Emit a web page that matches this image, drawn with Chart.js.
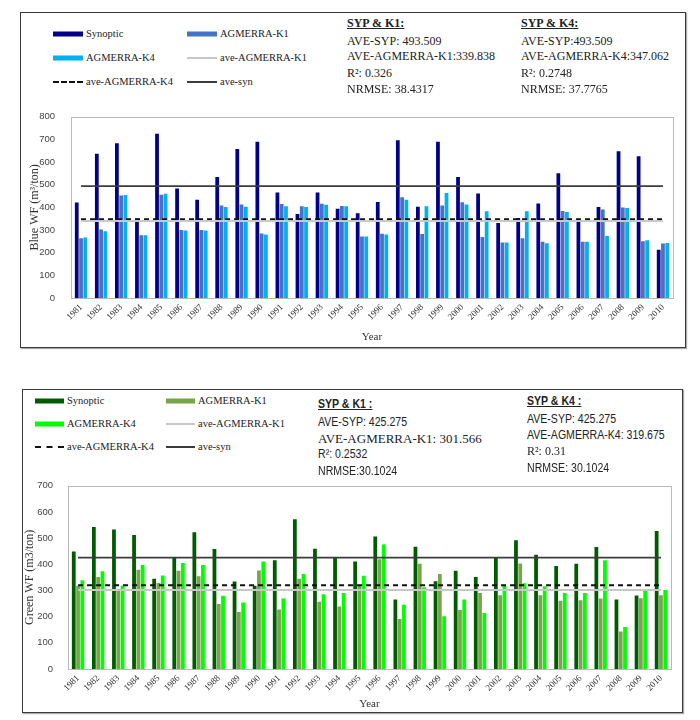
<!DOCTYPE html>
<html><head><meta charset="utf-8">
<script src="https://cdn.jsdelivr.net/npm/chart.js@4.4.0/dist/chart.umd.min.js"></script>
<style>
body{margin:0;background:#fff;width:700px;height:720px;position:relative;overflow:hidden;}
.box{position:absolute;border:1.5px solid #3a3a3a;box-sizing:border-box;box-shadow:1px 1px 1px #aaa;}
canvas{position:absolute;}
.t{position:absolute;white-space:nowrap;line-height:1;transform:translateY(-50%);transform-origin:0 50%;color:#222;}
.serif{font-family:"Liberation Serif","DejaVu Serif",serif;}
.sans{font-family:"Liberation Sans Narrow","Liberation Sans",sans-serif;transform:translateY(-50%) scaleX(0.88);}
.hd{font-weight:bold;text-decoration:underline;}
.sw{position:absolute;transform:translateY(-50%);}
</style></head><body>
<div class="box" style="left:20px;top:12px;width:666px;height:336px;"></div>
<div class="box" style="left:22px;top:389px;width:661px;height:324px;"></div>
<canvas id="c1" width="666" height="252" style="left:20px;top:95px;width:666px;height:252px;"></canvas>
<canvas id="c2" width="661" height="247" style="left:22px;top:465px;width:661px;height:247px;"></canvas>
<div id="ov"></div>
<script>
// ---- data ----
const years = ['1981','1982','1983','1984','1985','1986','1987','1988','1989','1990',
  '1991','1992','1993','1994','1995','1996','1997','1998','1999','2000',
  '2001','2002','2003','2004','2005','2006','2007','2008','2009','2010'];

const blueSyn = [421,637,683,351,725,483,433,534,658,689,466,371,466,394,374,424,696,403,689,534,461,331,353,417,551,341,401,647,625,213];
const blueK1  = [264,302,452,277,456,300,300,408,413,285,415,405,416,406,271,284,445,282,408,422,269,245,264,248,384,248,390,399,250,241];
const blueK4  = [267,294,455,277,460,298,298,401,403,280,405,402,412,405,271,280,433,405,463,413,383,245,383,242,380,248,274,397,255,243];

const greenSyn = [449,542,533,512,345,424,522,458,334,318,415,572,459,424,411,506,265,467,335,375,351,424,492,436,393,402,466,265,281,527];
const greenK1  = [318,351,300,379,328,375,354,248,218,376,227,345,257,239,318,419,191,402,363,225,290,282,403,282,261,263,269,143,270,282];
const greenK4  = [339,373,318,397,357,405,397,280,254,411,269,363,285,290,356,475,245,312,201,265,214,318,327,316,290,290,415,160,305,302];

const blueAvgSyn = 493.509, blueAvgK1 = 339.838, blueAvgK4 = 347.062;
const greenAvgSyn = 425.275, greenAvgK1 = 301.566, greenAvgK4 = 319.675;

const blueStats1 = ['AVE-SYP: 493.509','AVE-AGMERRA-K1:339.838','R²:  0.326','NRMSE: 38.4317'];
const blueStats2 = ['AVE-SYP:493.509','AVE-AGMERRA-K4:347.062','R²:  0.2748','NRMSE:  37.7765'];
const greenStats1 = ['AVE-SYP:  425.275','AVE-AGMERRA-K1:  301.566','R²: 0.2532','NRMSE:30.1024'];
const greenStats2 = ['AVE-SYP: 425.275','AVE-AGMERRA-K4: 319.675','R²: 0.31','NRMSE: 30.1024'];

// ---- styles ----
const SERIF = '"Liberation Serif","DejaVu Serif",serif';
const SANS = '"Liberation Sans Narrow","Liberation Sans",sans-serif';
const COL = {
  blueSyn:'#00008b', blueK1:'#4472c4', blueK4:'#00b0f0',
  greenSyn:'#005a00', greenK1:'#77a64a', greenK4:'#00ff00',
  aveK1:'#c8c8c8', aveK4:'#111111', aveSyn:'#3c3c3c'
};

const frame = {
  id:'frame',
  beforeDatasetsDraw(c){
    const a=c.chartArea, ctx=c.ctx;
    ctx.save(); ctx.strokeStyle='#b9b9b9'; ctx.lineWidth=1;
    ctx.strokeRect(Math.round(a.left)+0.5, Math.round(a.top)+0.5, Math.round(a.right-a.left), Math.round(a.bottom-a.top));
    ctx.restore();
  }
};

function makeChart(id, g){
  const bar = (label,data,color)=>({type:'bar',label,data,backgroundColor:color,borderWidth:0,
    barPercentage:0.88,categoryPercentage:0.64,order:2});
  const line = (label,val,color,w,dash)=>({type:'line',label,data:years.map(()=>val),borderColor:color,
    borderWidth:w,borderDash:dash||[],pointRadius:0,fill:false,order:1});
  return new Chart(document.getElementById(id),{
    data:{labels:years,datasets:[
      bar('Synoptic',g.syn,g.cSyn),
      bar('AGMERRA-K1',g.k1,g.cK1),
      bar('AGMERRA-K4',g.k4,g.cK4),
      line('ave-AGMERRA-K1',g.aK1,COL.aveK1,2),
      line('ave-AGMERRA-K4',g.aK4,COL.aveK4,2,[5,4]),
      line('ave-syn',g.aSyn,COL.aveSyn,1.6)
    ]},
    options:{
      responsive:false, animation:false, devicePixelRatio:1,
      layout:{padding:{top:g.padTop,right:g.padRight,left:0,bottom:0}},
      plugins:{legend:{display:false},tooltip:{enabled:false}},
      scales:{
        x:{offset:true,grid:{display:false,drawTicks:false},border:{display:false},
          ticks:{autoSkip:false,maxRotation:45,minRotation:45,font:{family:SERIF,size:9},color:'#333',padding:4},
          title:{display:true,text:'Year',font:{family:SERIF,size:11},color:'#333',padding:{top:0,bottom:g.yearPad}},
          afterFit(s){ s.height = g.xH; }},
        y:{min:0,max:g.max,grid:{display:false,drawTicks:false},border:{display:false},
          ticks:{stepSize:100,font:{family:SANS,size:9.5},color:'#444',padding:g.tickPad},
          title:{display:true,text:g.yTitle,font:{family:SERIF,size:12},color:'#333',padding:{top:g.titlePad,bottom:0}},
          afterFit(s){ s.width = g.yW; }}
      }
    },
    plugins:[frame]
  });
}

makeChart('c1',{syn:blueSyn,k1:blueK1,k4:blueK4,cSyn:COL.blueSyn,cK1:COL.blueK1,cK4:COL.blueK4,
  aK1:blueAvgK1,aK4:blueAvgK4,aSyn:blueAvgSyn,max:800,yTitle:'Blue WF (m³/ton)',
  padTop:11,padRight:13,xH:49,yW:51,yearPad:3,titlePad:8,tickPad:16});
makeChart('c2',{syn:greenSyn,k1:greenK1,k4:greenK4,cSyn:COL.greenSyn,cK1:COL.greenK1,cK4:COL.greenK4,
  aK1:greenAvgK1,aK4:greenAvgK4,aSyn:greenAvgSyn,max:700,yTitle:'Green WF (m3/ton)',
  padTop:12,padRight:12,xH:43,yW:46,yearPad:1,titlePad:1,tickPad:15});

// ---- legends & stats (HTML text) ----
const ov = document.getElementById('ov');
function txt(s,x,y,cls,size){
  const d=document.createElement('div'); d.className='t '+cls; d.textContent=s;
  d.style.left=x+'px'; d.style.top=y+'px'; d.style.fontSize=size+'px'; ov.appendChild(d); return d;
}
function swatch(kind,color,x,y,w){
  const d=document.createElement('div'); d.className='sw';
  d.style.left=x+'px'; d.style.top=y+'px'; d.style.width=w+'px';
  if(kind==='bar'){ d.style.height='5px'; d.style.background=color; }
  else if(kind==='dash'){ d.style.height='0'; d.style.borderTop='2px dashed '+color; }
  else { d.style.height='0'; d.style.borderTop='2px solid '+color; }
  ov.appendChild(d);
}
function legend(items,cols,rows,w,size){
  items.forEach((it,i)=>{
    const x=cols[i%2], y=rows[Math.floor(i/2)];
    swatch(it[1],it[2],x,y,w);
    txt(it[0],x+w+3,y,'serif',size);
  });
}
legend([['Synoptic','bar',COL.blueSyn],['AGMERRA-K1','bar',COL.blueK1],
        ['AGMERRA-K4','bar',COL.blueK4],['ave-AGMERRA-K1','line',COL.aveK1],
        ['ave-AGMERRA-K4','dash',COL.aveK4],['ave-syn','line',COL.aveSyn]],
       [53,187],[34,58,82],30,10.5);
legend([['Synoptic','bar',COL.greenSyn],['AGMERRA-K1','bar',COL.greenK1],
        ['AGMERRA-K4','bar',COL.greenK4],['ave-AGMERRA-K1','line',COL.aveK1],
        ['ave-AGMERRA-K4','dash',COL.aveK4],['ave-syn','line',COL.aveSyn]],
       [35,166],[401,424,447],29,10.5);

function stats(head,lines,x,y0,dy,headCls,fonts,sizes){
  txt(head,x,y0,headCls+' hd',12);
  lines.forEach((s,i)=>txt(s,x,y0+dy*(i+1)+(i===0?1:0),fonts[i],sizes[i]));
}
stats('SYP & K1:',blueStats1,347,23,16.5,'serif',['serif','serif','serif','serif'],[12,12,12,12]);
stats('SYP & K4:',blueStats2,521,23,16.5,'serif',['serif','serif','serif','serif'],[12,12,12,12]);
stats('SYP & K1 :',greenStats1,318,404,16.8,'sans',['sans','serif','sans','sans'],[12,13,12,12]);
stats('SYP & K4 :',greenStats2,527,401,16.8,'sans',['sans','sans','serif','sans'],[12,12,12,12]);
</script>
</body></html>
